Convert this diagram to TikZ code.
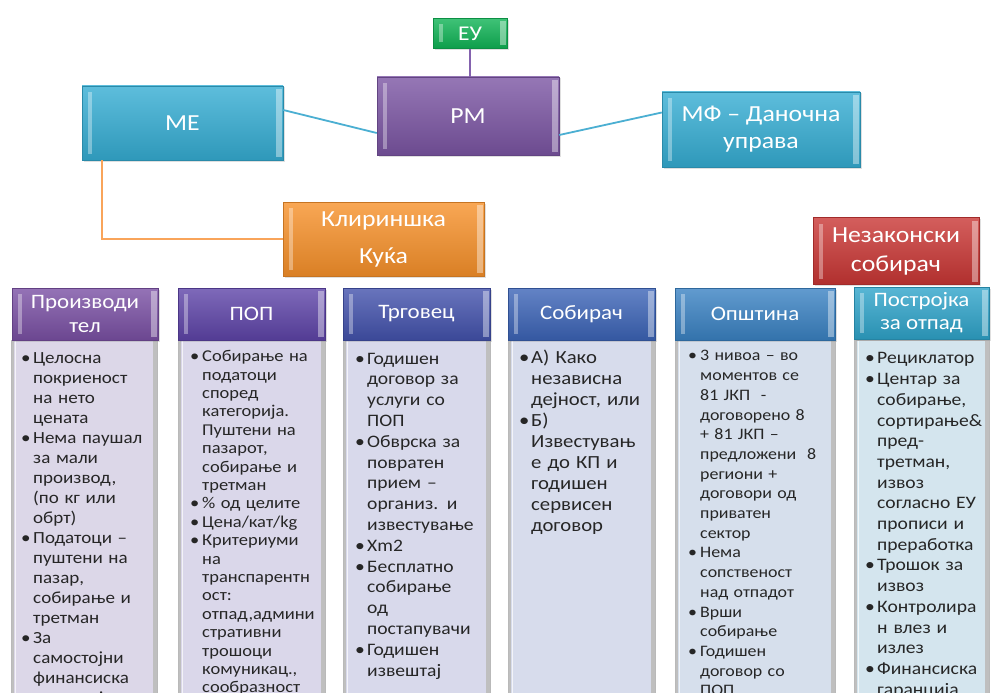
\documentclass[tikz,border=0pt]{standalone}
\usepackage{fontspec}
\setmainfont{Carlito}[FakeStretch=1.12]
\usetikzlibrary{shadows}

\definecolor{eucol}{HTML}{0FB355}
\definecolor{rmcol}{HTML}{7B55A3}
\definecolor{mecol}{HTML}{35ADD3}
\definecolor{klcol}{HTML}{F7912A}
\definecolor{nzcol}{HTML}{C93634}
\definecolor{hacol}{HTML}{7A50A4}
\definecolor{hbcol}{HTML}{5E44A8}
\definecolor{hccol}{HTML}{4352AC}
\definecolor{hdcol}{HTML}{3C64B7}
\definecolor{hecol}{HTML}{3A82C3}
\definecolor{hfcol}{HTML}{2FA4CA}
\definecolor{bacol}{HTML}{DCD7E8}
\definecolor{bbcol}{HTML}{DAD7EA}
\definecolor{bccol}{HTML}{D8D9EB}
\definecolor{bdcol}{HTML}{D7DCEC}
\definecolor{becol}{HTML}{D6DFEC}
\definecolor{bfcol}{HTML}{D4E5EE}
\definecolor{linecol}{HTML}{4BAFD2}
\definecolor{eulinecol}{HTML}{8462AE}
\definecolor{kllinecol}{HTML}{F9A45A}

\newlength{\bulind}\setlength{\bulind}{12pt}
\newcommand{\bitem}[1]{\par\noindent\hangindent=\bulind\hangafter=1\makebox[\bulind][l]{\textbullet}#1\par}

\begin{document}
\begin{tikzpicture}[x=1pt,y=-1pt]

    \tikzset{topbox/.style={rectangle, draw=#1!80!black, line width=0.5pt,
        top color=#1!80!white, bottom color=#1!88!black, text=white,
        align=center, inner sep=0pt,
        drop shadow={opacity=0.25, shadow xshift=1.5pt, shadow yshift=-1.5pt},
        path picture={
            \fill[white, opacity=0.35] ([xshift=6pt, yshift=-6pt]path picture bounding box.north west)
                rectangle ([xshift=10pt, yshift=6pt]path picture bounding box.south west);
            \fill[white, opacity=0.4] ([xshift=-7pt, yshift=-3pt]path picture bounding box.north east)
                rectangle ([xshift=-1pt, yshift=3pt]path picture bounding box.south east);
        }}}
    \tikzset{bigbox/.style={topbox=#1, font=\fontsize{23}{27}\selectfont}}
    \tikzset{colhead/.style={topbox=#1, minimum height=52pt, font=\fontsize{20.5}{24}\selectfont}}
    \tikzset{colbody/.style={rectangle, anchor=north, draw=gray!55, line width=0.8pt,
        fill=#1, inner sep=0pt, minimum height=380pt,
        path picture={
            \fill[gray!50] (path picture bounding box.south west)
                rectangle ([xshift=3pt]path picture bounding box.north west);
            \fill[gray!50] ([xshift=-4pt]path picture bounding box.south east)
                rectangle (path picture bounding box.north east);
            \draw[white, opacity=0.7, line width=0.8pt] ([xshift=4pt]path picture bounding box.south west)
                -- ([xshift=4pt]path picture bounding box.north west);
        }}}
    \tikzset{coltext/.style={anchor=north west, inner sep=0pt, text width=150pt,
        align=left, text=black!85, font=\fontsize{17}{20}\selectfont}}
    \tikzset{conn/.style={line width=1.8pt}}

    \useasboundingbox (0,0) rectangle (991,693);
    \fill[white] (0,0) rectangle (991,693);

    % top level
    \node[bigbox=eucol, minimum width=74pt, minimum height=30pt,
        font=\fontsize{21}{24}\selectfont] (eu) at (470, 33.5) {ЕУ};
    \node[bigbox=rmcol, minimum width=182pt, minimum height=78pt] (rm) at (468, 116) {РМ};
    \node[bigbox=mecol, minimum width=201pt, minimum height=74pt] (me) at (182.5, 123) {МЕ};
    \node[bigbox=mecol, minimum width=198pt, minimum height=75pt] (mf) at (761, 129.5)
        {МФ – Даночна\\управа};
    \node[bigbox=klcol, minimum width=201pt, minimum height=74pt,
        font=\fontsize{23}{37}\selectfont] (kl) at (383.5, 239) {Клириншка\\Куќа};
    \node[bigbox=nzcol, minimum width=166pt, minimum height=67pt,
        font=\fontsize{23}{29}\selectfont] (nz) at (896, 251) {Незаконски\\собирач};

    \draw[conn, linecol] ([yshift=13pt]me.east) -- ([yshift=-17pt]rm.west);
    \draw[conn, linecol] ([yshift=-19pt]rm.east) -- ([yshift=17pt]mf.west);
    \draw[conn, eulinecol] (eu.south) -- (eu.south |- rm.north);
    \draw[conn, kllinecol] ([xshift=20pt]me.south west) |- (kl.west);

    % columns: bodies
    \node[colbody=bacol, minimum width=146pt] (pb) at (84, 340) {};
    \node[colbody=bbcol, minimum width=147pt] (popb) at (251.5, 340) {};
    \node[colbody=bccol, minimum width=147pt] (tb) at (416.5, 340) {};
    \node[colbody=bdcol, minimum width=147pt] (sb) at (581.5, 340) {};
    \node[colbody=becol, minimum width=160pt] (ob) at (755, 340) {};
    \node[colbody=bfcol, minimum width=135pt] (fb) at (921.5, 340) {};

    % columns: headers
    \node[colhead=hacol, minimum width=146pt] (ph) at (85, 314) {Производи\\тел};
    \node[colhead=hbcol, minimum width=147pt] (poph) at (251.5, 314) {ПОП};
    \node[colhead=hccol, minimum width=147pt] (th) at (416.5, 314) {Трговец};
    \node[colhead=hdcol, minimum width=147pt] (sh) at (581.5, 314) {Собирач};
    \node[colhead=hecol, minimum width=160pt] (oh) at (755, 314) {Општина};
    \node[colhead=hfcol, minimum width=135pt, font=\fontsize{20.5}{23}\selectfont]
        (fh) at (921.5, 313) {Постројка\\за отпад};

    % columns: texts
    \node[coltext] (pt) at (21, 343) {%
        \bitem{Целосна\newline покриеност\newline на нето\newline цената}
        \bitem{Нема паушал\newline за мали\newline производ,\newline (по кг или\newline обрт)}
        \bitem{Податоци –\newline пуштени на\newline пазар,\newline собирање и\newline третман}
        \bitem{За\newline самостојни\newline финансиска\newline гаранција}};
    \node[coltext, font=\fontsize{16.5}{18.4}\selectfont] (popt) at (190, 343) {%
        \bitem{Собирање на\newline податоци\newline според\newline категорија.\newline Пуштени на\newline пазарот,\newline собирање и\newline третман}
        \bitem{\% од целите}
        \bitem{Цена/кат/kg}
        \bitem{Критериуми\newline на\newline транспарентн\newline ост:\newline отпад,админи\newline стративни\newline трошоци\newline комуникац.,\newline сообразност}};
    \node[coltext, font=\fontsize{17.5}{20.8}\selectfont] (tt) at (355, 343) {%
        \bitem{Годишен\newline договор за\newline услуги со\newline ПОП}
        \bitem{Обврска за\newline повратен\newline прием –\newline организ. и\newline известување}
        \bitem{Хm2}
        \bitem{Бесплатно\newline собирање\newline од\newline постапувачи}
        \bitem{Годишен\newline извештај}};
    \node[coltext, font=\fontsize{18.5}{21}\selectfont] (st) at (519, 342) {%
        \bitem{А) Како\newline независна\newline дејност, или}
        \bitem{Б)\newline Известувањ\newline е до КП и\newline годишен\newline сервисен\newline договор}};
    \node[coltext, font=\fontsize{16}{19.7}\selectfont] (ot) at (688, 341) {%
        \bitem{3 нивоа – во\newline моментов се\newline 81 ЈКП\ \ -\newline договорено 8\newline + 81 ЈКП –\newline предложени\ \ 8\newline региони +\newline договори од\newline приватен\newline сектор}
        \bitem{Нема\newline сопственост\newline над отпадот}
        \bitem{Врши\newline собирање}
        \bitem{Годишен\newline договор со\newline ПОП}};
    \node[coltext, font=\fontsize{17.5}{20.7}\selectfont] (ft) at (865, 343) {%
        \bitem{Рециклатор}
        \bitem{Центар за\newline собирање,\newline сортирање\&\newline пред-\newline третман,\newline извоз\newline согласно ЕУ\newline прописи и\newline преработка}
        \bitem{Трошок за\newline извоз}
        \bitem{Контролира\newline н влез и\newline излез}
        \bitem{Финансиска\newline гаранција}};

\end{tikzpicture}
\end{document}
